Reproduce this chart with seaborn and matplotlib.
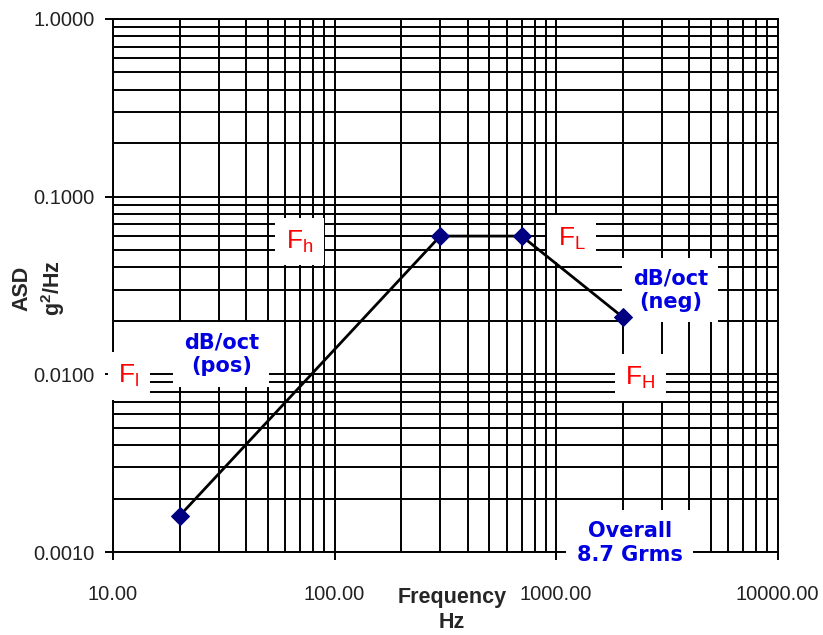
import matplotlib
matplotlib.use("Agg")
import matplotlib.pyplot as plt
import matplotlib.ticker as mticker
import seaborn as sns
import pandas as pd

# Random vibration profile breakpoints
freq_hz = [20, 300, 700, 2000]
asd_g2hz = [0.0016, 0.06, 0.06, 0.021]

x_ticks = [10, 100, 1000, 10000]
y_ticks = [0.001, 0.01, 0.1, 1.0]

sns.set_theme(style="white")
plt.rcParams["font.family"] = ["Liberation Sans", "DejaVu Sans"]
plt.rcParams["mathtext.default"] = "regular"

narrow = ["Liberation Sans Narrow", "Liberation Sans", "DejaVu Sans"]
bold_ui = ["DejaVu Sans"]

df = pd.DataFrame({"Frequency": freq_hz, "ASD": asd_g2hz})

fig = plt.figure(figsize=(8.23, 6.35), dpi=100)
ax = fig.add_axes([113 / 823, 1 - 552 / 635, (777.5 - 113) / 823, (552 - 19) / 635])

ax.set_xscale("log")
ax.set_yscale("log")
ax.set_xlim(10, 10000)
ax.set_ylim(0.001, 1.0)

sns.lineplot(data=df, x="Frequency", y="ASD", ax=ax, color="black", linewidth=2.0,
             marker="D", markersize=9, markerfacecolor="#000080",
             markeredgecolor="#000080", zorder=6)

ax.xaxis.set_major_locator(mticker.FixedLocator(x_ticks))
ax.yaxis.set_major_locator(mticker.FixedLocator(y_ticks))
ax.xaxis.set_minor_locator(mticker.LogLocator(base=10, subs=range(2, 10)))
ax.yaxis.set_minor_locator(mticker.LogLocator(base=10, subs=range(2, 10)))
ax.xaxis.set_minor_formatter(mticker.NullFormatter())
ax.yaxis.set_minor_formatter(mticker.NullFormatter())
ax.xaxis.set_major_formatter(mticker.FuncFormatter(lambda v, p: f"{v:.2f}"))
ax.yaxis.set_major_formatter(mticker.FuncFormatter(lambda v, p: f"{v:.4f}"))

ax.grid(True, which="both", color="black", linewidth=1.4)
ax.set_axisbelow(True)

for s in ax.spines.values():
    s.set_color("black")
    s.set_linewidth(1.4)

ax.tick_params(axis="both", which="major", direction="out", length=6, width=1.4,
               color="black", labelsize=14.5, labelcolor="#222222")
ax.tick_params(axis="x", which="major", pad=18)
ax.tick_params(axis="y", which="major", pad=7)
ax.tick_params(axis="both", which="minor", length=0)
ax.tick_params(bottom=True, left=True, top=False, right=False)

ax.set_xlabel("")
ax.set_ylabel("")
fig.text(452 / 823, 1 - 610 / 635, "Frequency\nHz", ha="center", va="center",
         family=narrow, fontweight="bold", fontsize=15.5, linespacing=1.3)
fig.text(39 / 823, 1 - 288 / 635, "ASD\ng$^{2}$/Hz", ha="center", va="center",
         rotation=90, family=narrow, fontweight="bold", fontsize=15.5, linespacing=1.3)

red_box = dict(boxstyle="square,pad=0.4", facecolor="white", edgecolor="none")
blue_box = dict(boxstyle="square,pad=0.5", facecolor="white", edgecolor="none")

red_labels = [
    (11.8, 0.0098, "F$_l$"),
    (69.5, 0.0557, "F$_h$"),
    (1180, 0.058, "F$_L$"),
    (2400, 0.0096, "F$_H$"),
]
for x, y, s in red_labels:
    ax.text(x, y, s, color="#FF0000", fontsize=19, ha="center", va="center",
            bbox=red_box, zorder=5)

blue_labels = [
    (30.8, 0.0130, "dB/oct\n(pos)"),
    (3280, 0.0298, "dB/oct\n(neg)"),
]
for x, y, s in blue_labels:
    ax.text(x, y, s, color="#0000E0", fontsize=15, fontweight="bold",
            family=bold_ui, ha="center", va="center", linespacing=1.25,
            bbox=blue_box, zorder=5)

ax.text(2150, 0.00113, "Overall\n8.7 Grms", color="#0000E0", fontsize=15,
        fontweight="bold", family=bold_ui, ha="center", va="center",
        linespacing=1.25, bbox=blue_box, zorder=7, clip_on=False)

fig.savefig("out.png", dpi=100, facecolor="white")
